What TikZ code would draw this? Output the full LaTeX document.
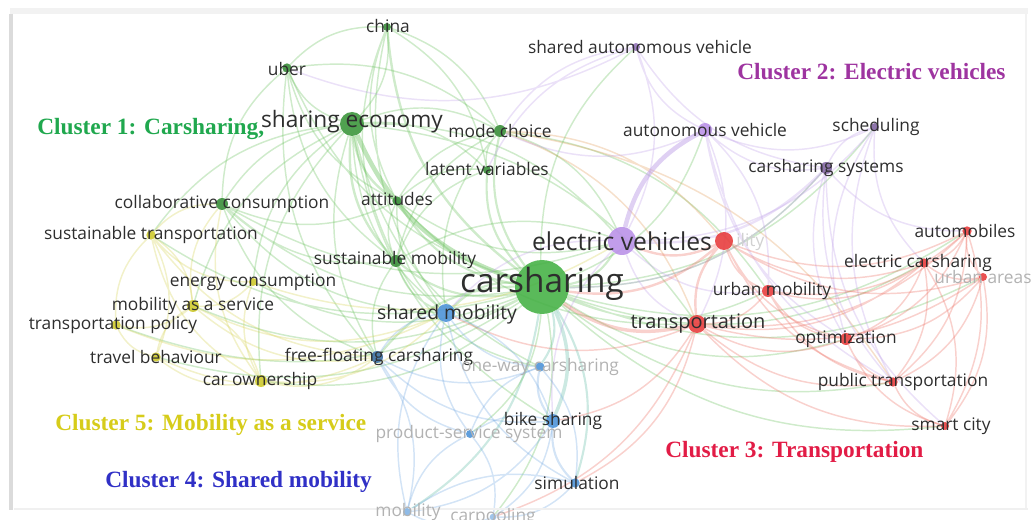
\documentclass[tikz,border=0pt]{standalone}
\usepackage{fontspec}
\newfontfamily\kwfont{Open Sans}
\newfontfamily\clfont{Liberation Serif}
\usetikzlibrary{backgrounds}

\definecolor{gdot}{RGB}{72,178,72}
\definecolor{pdot}{RGB}{186,146,232}
\definecolor{rdot}{RGB}{232,62,62}
\definecolor{bdot}{RGB}{78,148,216}
\definecolor{ydot}{RGB}{206,202,46}
\definecolor{glink}{RGB}{105,192,92}
\definecolor{plink}{RGB}{192,162,232}
\definecolor{rlink}{RGB}{236,112,100}
\definecolor{blink}{RGB}{118,170,226}
\definecolor{ylink}{RGB}{214,210,88}
\definecolor{tlink}{RGB}{95,188,165}
\definecolor{olink}{RGB}{226,158,92}
\definecolor{cgreen}{RGB}{32,168,78}
\definecolor{cpurple}{RGB}{158,52,160}
\definecolor{cred}{RGB}{226,28,70}
\definecolor{cblue}{RGB}{48,48,198}
\definecolor{cyellow}{RGB}{214,204,26}

\tikzset{
  kw/.style={circle, inner sep=0pt, minimum size=8pt, fill opacity=0.9},
  lbl/.style={inner sep=0pt, text=black!82, font=\kwfont\fontsize{13}{13}\selectfont},
  faint/.style={lbl, text=black!30},
  cluster/.style={anchor=west, inner sep=0pt, font=\clfont\bfseries\fontsize{17.5}{17.5}\selectfont},
  link/.style={line width=1.1pt, draw opacity=0.32, bend left=24},
  eg/.style={link, draw=glink},
  ep/.style={link, draw=plink},
  er/.style={link, draw=rlink},
  eb/.style={link, draw=blink},
  ey/.style={link, draw=ylink},
}

\begin{document}
\begin{tikzpicture}[x=0.75pt,y=0.75pt,yscale=-1,xscale=1]
\useasboundingbox (0,0) rectangle (1032,520);

% panel and its shadow
\draw[black!5, line width=4] (10,11) -- (1028,11);
\draw[black!14, line width=3] (11,14) -- (11,510);
\draw[black!6, line width=2] (14,509) -- (1028,509);
\draw[black!5, line width=2] (1026,14) -- (1026,508);

% Cluster 1
\node[kw, fill=gdot, minimum size=40.5pt] (cars) at (542,287) {};
\node[kw, fill=gdot!85!black, minimum size=18pt] (shecon) at (352,124) {};
\node[kw, fill=gdot!80!black, minimum size=6pt] (china) at (387,27) {};
\node[kw, fill=gdot!80!black, minimum size=7pt] (uber) at (287,68) {};
\node[kw, fill=gdot!80!black, minimum size=9pt] (modech) at (500,131) {};
\node[kw, fill=gdot!80!black, minimum size=6pt] (latvar) at (487,170) {};
\node[kw, fill=gdot!80!black, minimum size=9pt] (collab) at (222,204) {};
\node[kw, fill=gdot!80!black, minimum size=7pt] (attit) at (397,201) {};
\node[kw, fill=gdot!80!black, minimum size=9pt] (susmob) at (396,261) {};

% Cluster 2
\node[kw, fill=pdot, minimum size=21pt] (ev) at (622,241) {};
\node[kw, fill=pdot!80!black, minimum size=6pt] (sav) at (636,47) {};
\node[kw, fill=pdot, minimum size=10.5pt] (autveh) at (705,130) {};
\node[kw, fill=pdot!70!black, minimum size=6pt] (sched) at (875,127) {};
\node[kw, fill=pdot!70!black, minimum size=9pt] (cssys) at (826,168) {};

% Cluster 3
\node[kw, fill=rdot, minimum size=13.5pt] (transp) at (697,324) {};
\node[kw, fill=rdot, minimum size=13.5pt] (sust) at (724,241) {};
\node[kw, fill=rdot, minimum size=7pt] (automob) at (967,231) {};
\node[kw, fill=rdot, minimum size=7pt] (elcs) at (924,263) {};
\node[kw, fill=rdot, minimum size=6pt] (urbar) at (983,277) {};
\node[kw, fill=rdot, minimum size=9pt] (urbmob) at (768,291) {};
\node[kw, fill=rdot, minimum size=9pt] (optim) at (846,339) {};
\node[kw, fill=rdot, minimum size=7pt] (pubtr) at (893,382) {};
\node[kw, fill=rdot, minimum size=6pt] (smart) at (945,426) {};

% Cluster 4
\node[kw, fill=bdot, minimum size=13.5pt] (shmob) at (446,313) {};
\node[kw, fill=bdot!75!black, minimum size=9pt] (ffcs) at (377,357) {};
\node[kw, fill=bdot, minimum size=7pt] (oneway) at (540,367) {};
\node[kw, fill=bdot, minimum size=10.5pt] (bike) at (553,421) {};
\node[kw, fill=bdot, minimum size=6pt] (pss) at (470,434) {};
\node[kw, fill=bdot, minimum size=7pt] (simul) at (575,483) {};
\node[kw, fill=bdot!70, minimum size=6pt] (mob) at (407,512) {};
\node[kw, fill=bdot!60, minimum size=5pt] (carpool) at (493,517) {};

% Cluster 5
\node[kw, fill=ydot, minimum size=7pt] (sustra) at (151,235) {};
\node[kw, fill=ydot, minimum size=6pt] (energy) at (253,282) {};
\node[kw, fill=ydot, minimum size=9pt] (maas) at (193,306) {};
\node[kw, fill=ydot, minimum size=7pt] (trapol) at (116,325) {};
\node[kw, fill=ydot, minimum size=7pt] (travel) at (156,357) {};
\node[kw, fill=ydot, minimum size=9pt] (carown) at (261,381) {};

\begin{pgfonlayer}{background}
% links of cluster 1
\draw[eg, line width=3.4pt, draw opacity=0.42] (shecon) to (cars);
\draw[eg, line width=1.8pt] (shecon) to (susmob) (shecon) to (attit) (china) to (cars);
\draw[eg] (shecon) to (china) (uber) to (shecon) (shecon) to (collab) (modech) to (shecon)
  (latvar) to (shecon) (shecon) to (shmob) (shecon) to (ffcs) (ev) to (shecon)
  (shecon) to (maas) (shecon) to (carown) (shecon) to (bike) (shecon) to (oneway)
  (transp) to (shecon) (shecon) to (energy) (shecon) to (sustra);
\draw[eg] (china) to (uber) (modech) to (china) (latvar) to (china) (china) to (attit)
  (china) to (susmob) (china) to (shmob);
\draw[eg] (uber) to (cars) (uber) to (collab) (uber) to (susmob) (modech) to (uber)
  (uber) to (attit) (uber) to (ffcs);
\draw[eg, line width=1.6pt] (modech) to (cars) (latvar) to (cars);
\draw[eg] (modech) to (latvar) (modech) to (attit) (modech) to (susmob)
  (urbmob) to (modech) (ev) to (modech) (modech) to (shmob);
\draw[olink, link] (transp) to (modech) (sust) to (modech) (pubtr) to (modech);
\draw[eg] (latvar) to (attit) (latvar) to (susmob);
\draw[eg] (collab) to (cars) (collab) to (susmob) (collab) to (attit) (collab) to (shmob)
  (collab) to (ffcs) (collab) to (ev);
\draw[ey] (collab) to (sustra) (collab) to (maas) (collab) to (carown);
\draw[eg, line width=1.6pt] (attit) to (cars) (susmob) to (cars);
\draw[eg] (attit) to (susmob) (attit) to (shmob) (attit) to (ev) (attit) to (transp);
\draw[eg] (susmob) to (shmob) (susmob) to (ffcs) (ev) to (susmob) (susmob) to (oneway);
\draw[eg, line width=1.6pt] (cars) to (ev) (cars) to (shmob) (cars) to (ffcs);
\draw[tlink, link, line width=2.6pt] (bike) to (cars);
\draw[tlink, link, line width=1.6pt] (oneway) to (cars) (simul) to (cars) (mob) to (cars);
\draw[eg] (cars) to (urbmob) (cars) to (optim) (cars) to (pubtr) (cars) to (elcs)
  (cars) to (automob) (cars) to (autveh) (sav) to (cars) (cars) to (cssys)
  (carown) to (cars) (maas) to (cars) (energy) to (cars) (sustra) to (cars)
  (travel) to (cars) (trapol) to (cars) (cars) to (smart) (cars) to (sched)
  (pss) to (cars) (carpool) to (cars) (cars) to (urbar);

% links of cluster 2
\draw[ep, line width=3.4pt, draw opacity=0.5] (autveh) to (ev);
\draw[ep] (sav) to (autveh) (ev) to (sav) (sav) to (latvar) (uber) to (sav)
  (sav) to (cssys) (sav) to (modech);
\draw[ep] (autveh) to (cssys) (autveh) to (sched) (transp) to (autveh) (urbmob) to (autveh)
  (autveh) to (pubtr) (autveh) to (optim) (modech) to (autveh);
\draw[ep] (sched) to (cssys) (ev) to (sched) (sched) to (optim) (sched) to (elcs)
  (sched) to (pubtr);
\draw[ep, line width=1.8pt] (ev) to (cssys);
\draw[ep] (cssys) to (optim) (cssys) to (automob) (cssys) to (pubtr) (cars) to (cssys)
  (cssys) to (smart);
\draw[ep] (ev) to (transp) (ev) to (urbmob) (ev) to (shmob) (ev) to (bike);

% links of cluster 3
\draw[er, line width=2.6pt] (cars) to (transp);
\draw[er, line width=1.8pt] (sust) to (transp) (ev) to (sust) (cars) to (sust);
\draw[er] (sust) to (urbmob) (sust) to (automob) (sust) to (elcs) (sust) to (optim)
  (sust) to (pubtr) (sust) to (urbar);
\draw[er] (transp) to (urbmob) (transp) to (optim) (transp) to (pubtr) (transp) to (smart)
  (transp) to (automob) (transp) to (elcs) (transp) to (urbar) (simul) to (transp)
  (bike) to (transp) (carpool) to (transp) (shmob) to (transp);
\draw[er] (urbmob) to (optim) (urbmob) to (pubtr) (urbmob) to (elcs) (urbmob) to (automob);
\draw[er] (optim) to (pubtr) (optim) to (smart) (optim) to (elcs) (optim) to (automob)
  (optim) to (urbar);
\draw[er] (pubtr) to (smart) (pubtr) to (automob) (pubtr) to (elcs) (pubtr) to (urbar);
\draw[er] (elcs) to (automob) (elcs) to (urbar) (automob) to (urbar) (smart) to (automob)
  (smart) to (urbar) (smart) to (elcs);

% links of cluster 4
\draw[eb] (shmob) to (ffcs) (bike) to (shmob) (shmob) to (mob) (shmob) to (simul)
  (shmob) to (oneway) (shmob) to (pss);
\draw[eb] (ffcs) to (oneway) (ffcs) to (bike) (mob) to (ffcs) (ffcs) to (pss);
\draw[eb, line width=1.6pt] (bike) to (simul) (oneway) to (bike);
\draw[eb] (bike) to (pss) (carpool) to (bike) (mob) to (bike) (simul) to (oneway)
  (simul) to (mob) (carpool) to (simul) (pss) to (mob) (carpool) to (pss)
  (mob) to (carpool) (oneway) to (pss);

% links of cluster 5
\draw[ey] (maas) to (sustra) (trapol) to (maas) (maas) to (travel) (carown) to (maas)
  (maas) to (energy) (maas) to (ffcs) (maas) to (shmob);
\draw[ey] (sustra) to (trapol) (travel) to (sustra) (sustra) to (carown) (sustra) to (energy)
  (sustra) to (ffcs);
\draw[ey] (energy) to (carown) (energy) to (ev) (travel) to (carown) (trapol) to (travel)
  (carown) to (ffcs) (carown) to (shmob) (travel) to (ffcs) (trapol) to (shmob);
\end{pgfonlayer}

% Text Node
\node[lbl] (chinaT) at (388,26) {china};
\node[lbl] (uberT) at (287,69) {uber};
\node[lbl, font=\kwfont\fontsize{17}{17}\selectfont] (shecontT) at (352,122) {sharing economy};
\node[lbl] (modechT) at (500,131) {mode choice};
\node[lbl] (latvarT) at (487,169) {latent variables};
\node[lbl] (collabT) at (222,204) {collaborative consumption};
\node[lbl] (attitT) at (397,199) {attitudes};
\node[lbl] (susmobT) at (395,260) {sustainable mobility};
\node[lbl, font=\kwfont\fontsize{25}{25}\selectfont] (carsT) at (542,284) {carsharing};

\node[lbl] (savT) at (640,47) {shared autonomous vehicle};
\node[lbl] (autvehT) at (705,130) {autonomous vehicle};
\node[lbl] (schedT) at (876,127) {scheduling};
\node[lbl] (cssysT) at (826,168) {carsharing systems};
\node[lbl, font=\kwfont\fontsize{18.5}{18.5}\selectfont] (evT) at (622,241) {electric vehicles};

\node[faint, text=black!18, anchor=west] (sustT) at (736,242) {ility};
\node[lbl] (automobT) at (965,231) {automobiles};
\node[lbl] (elcsT) at (918,263) {electric carsharing};
\node[faint] (urbarT) at (983,277) {urban areas};
\node[lbl] (urbmobT) at (772,291) {urban mobility};
\node[lbl, font=\kwfont\fontsize{15}{15}\selectfont] (transpT) at (698,324) {transportation};
\node[lbl] (optimT) at (846,339) {optimization};
\node[lbl] (pubtrT) at (903,382) {public transportation};
\node[lbl] (smartT) at (951,426) {smart city};

\node[lbl, font=\kwfont\fontsize{14.5}{14.5}\selectfont] (shmobT) at (447,314) {shared mobility};
\node[lbl] (ffcsT) at (379,357) {free-floating carsharing};
\node[faint] (onewayT) at (540,367) {one-way carsharing};
\node[lbl] (bikeT) at (553,421) {bike sharing};
\node[faint] (pssT) at (469,434) {product-service system};
\node[lbl] (simulT) at (577,483) {simulation};
\node[faint] (mobT) at (408,512) {mobility};
\node[faint] (carpoolT) at (493,517) {carpooling};

\node[lbl] (sustraT) at (151,235) {sustainable transportation};
\node[lbl] (energyT) at (253,282) {energy consumption};
\node[lbl] (maasT) at (193,306) {mobility as a service};
\node[lbl] (trapolT) at (113,325) {transportation policy};
\node[lbl] (travelT) at (156,357) {travel behaviour};
\node[lbl] (carownT) at (260,381) {car ownership};

% cluster titles
\node[cluster, text=cgreen] (c1) at (37,129) {Cluster 1: Carsharing,};
\node[cluster, text=cpurple] (c2) at (737,72) {Cluster 2: Electric vehicles};
\node[cluster, text=cred] (c3) at (665,452) {Cluster 3: Transportation};
\node[cluster, text=cblue] (c4) at (105,482) {Cluster 4: Shared mobility};
\node[cluster, text=cyellow] (c5) at (55,425) {Cluster 5: Mobility as a service};

\end{tikzpicture}
\end{document}
